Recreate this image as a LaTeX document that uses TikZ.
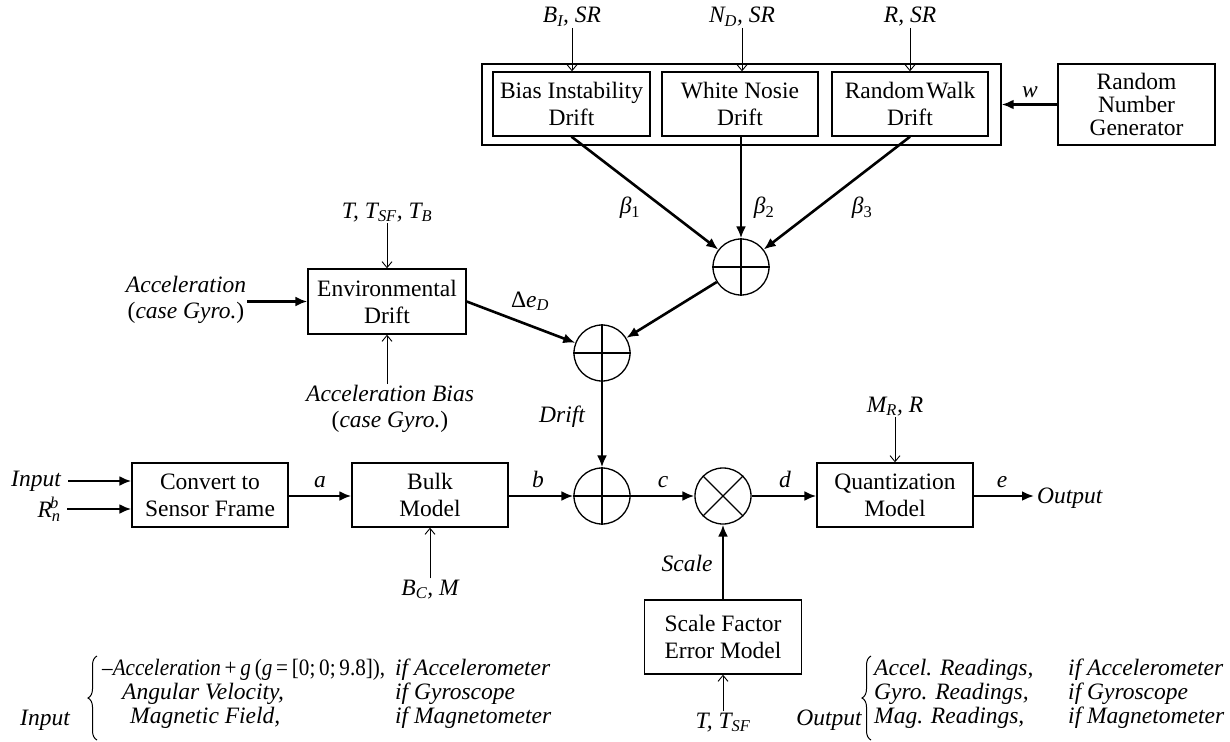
\documentclass[tikz,border=0pt]{standalone}
\usepackage{fontspec}
\usepackage{graphicx}
\setmainfont{Liberation Serif}
\usetikzlibrary{arrows.meta,decorations.pathreplacing}
\newcommand\lsub[1]{\textsubscript{#1}}
\tikzset{
  blk/.style={draw, line width=1.4pt, minimum width=156pt, minimum height=64pt, align=center, inner sep=0pt, font=\fontsize{23.5}{27}\selectfont},
  sumc/.style={draw, circle, line width=1.3pt, minimum size=56pt, inner sep=0pt},
  sig/.style={line width=2.6pt, -{Latex[length=12pt,width=10pt]}},
  prm/.style={line width=0.9pt, -{Straight Barb[length=6pt,width=10pt]}},
  lbl/.style={font=\fontsize{23.5}{26}\selectfont\itshape, inner sep=1pt, align=center},
  frm/.style={font=\fontsize{23.5}{24}\selectfont\itshape, inner sep=0pt, anchor=base west},
  brc/.style={decorate, decoration={brace, amplitude=9pt, aspect=0.5}, line width=1pt},
}
\begin{document}
\begin{tikzpicture}[x=1pt, y=-1pt]
\useasboundingbox (0,0) rectangle (1230,741);

% ---- drift group ----
\node[draw, line width=1.4pt, minimum width=519pt, minimum height=81pt, inner sep=0pt] (grp) at (741.5,104.5) {};
\node[blk, minimum width=157pt] (bias) at (571.5,104) {Bias Instability\\Drift};
\node[blk] (white) at (740,104) {White Nosie\\Drift};
\node[blk] (rw) at (910,104) {Random\hspace{0.08em}Walk\\Drift};
\node[blk, minimum width=157pt, minimum height=81pt, font=\fontsize{23.5}{23}\selectfont] (rng) at (1136.5,104.5) {Random\\Number\\Generator};

\node[lbl, anchor=base] (pb) at (572,23) {B\lsub{I}, SR};
\node[lbl, anchor=base] (pn) at (742,23) {N\lsub{D}, SR};
\node[lbl, anchor=base] (pr) at (910,23) {R, SR};
\draw[prm] (pb.south) -- (pb.south |- bias.north);
\draw[prm] (pn.south) -- (pn.south |- white.north);
\draw[prm] (pr.south) -- (rw.north);

\draw[sig] (rng.west) -- (grp.east);
\node[lbl] (lw) at (1030,92) {w};

% ---- sums ----
\node[sumc] (s1) at (741,267) {};
\node[sumc] (s2) at (602,353) {};
\node[sumc] (s3) at (602,496) {};
\node[sumc] (mx) at (723,496) {};
\foreach \s in {s1,s2,s3}{
  \draw[line width=1.1pt] (\s.north) -- (\s.south);
  \draw[line width=1.1pt] (\s.west) -- (\s.east);
}
\draw[line width=1.1pt] (mx.north west) -- (mx.south east);
\draw[line width=1.1pt] (mx.north east) -- (mx.south west);

\draw[sig] (bias.south) -- (s1);
\draw[sig] (s1 |- white.south) -- (s1.north);
\draw[sig] (rw.south) -- (s1);
\node[lbl] (b1) at (630,208) {β\textsubscript{\upshape 1}};
\node[lbl] (b2) at (764,208) {β\textsubscript{\upshape 2}};
\node[lbl] (b3) at (862,208) {β\textsubscript{\upshape 3}};

% ---- environmental drift ----
\node[blk, minimum width=158pt, minimum height=65pt] (env) at (387,301.5) {Environmental\\Drift};
\node[lbl, anchor=base] (pt) at (387,218) {T, T\lsub{SF}, T\lsub{B}};
\draw[prm] (pt.south) -- (env.north);
\node[lbl] (acc) at (186,300) {Acceleration\\\textup{(}case Gyro.\textup{)}};
\draw[sig] (acc.east |- env.west) -- (env.west);
\node[lbl] (ab) at (390,409) {Acceleration Bias\\\textup{(}case Gyro.\textup{)}};
\draw[prm] (ab.north -| env.south) -- (env.south);
\node[lbl, anchor=base] (de) at (530,307) {\textup{Δ}e\lsub{D}};
\draw[sig] (env.east) -- (s2);
\draw[sig] (s1) -- (s2);
\draw[sig] (s2) -- (s3);
\node[lbl] (dl) at (562,417) {Drift};

% ---- main chain ----
\node[blk] (conv) at (210,495) {Convert to\\Sensor Frame};
\node[blk] (bulk) at (430,495) {Bulk\\Model};
\node[blk] (quant) at (895,495) {Quantization\\Model};
\node[blk, minimum width=157pt, minimum height=74pt] (scl) at (723,637) {Scale Factor\\Error Model};

\node[lbl, anchor=east] (in) at (62,481) {Input};
\node[lbl, anchor=east, inner sep=0pt] (rn) at (59,509) {R\textsubscript{n}\kern-0.45em\textsuperscript{b}};
\draw[sig] ([xshift=6pt]in.east) -- (in.east -| conv.west);
\draw[sig] ([xshift=8pt]rn.east) -- (rn.east -| conv.west);
\draw[sig] (conv.east |- s3.west) -- (bulk.west |- s3.west);
\draw[sig] (bulk.east |- s3.west) -- (s3.west);
\draw[sig] (s3.east) -- (mx.west);
\draw[sig] (mx.east) -- (quant.west |- mx.east);
\node[lbl, anchor=base west, inner sep=3pt] (out) at (1034,503) {Output};
\draw[sig] (quant.east |- mx.east) -- (out.west |- mx.east);
\node[lbl, anchor=base] (la) at (320,487) {a};
\node[lbl, anchor=base] (lb) at (538,487) {b};
\node[lbl, anchor=base] (lc) at (663,487) {c};
\node[lbl, anchor=base] (ld) at (785,487) {d};
\node[lbl, anchor=base] (le) at (1002,487) {e};

\node[lbl, anchor=base] (pbc) at (430,595) {B\lsub{C}, M};
\draw[prm] (pbc.north) -- (bulk.south);
\node[lbl, anchor=base] (pmr) at (895,412) {M\lsub{R}, R};
\draw[prm] (pmr.south) -- (quant.north);
\node[lbl] (lscale) at (687,563) {Scale};
\draw[sig] (scl.north) -- (mx.south);
\node[lbl, anchor=base] (pts) at (723,728) {T, T\lsub{SF}};
\draw[prm] (pts.north) -- (scl.south);

% ---- bottom descriptions ----
\node[lbl, anchor=base] (fin) at (45,725) {Input};
\coordinate (ib1) at (97,740);
\coordinate (ib2) at (97,656);
\draw[brc] (ib1) -- (ib2);
\node[frm] (i1) at (102,675) {\scalebox{0.9}[1]{\spaceskip=0.18em –Acceleration \textup{+} g \textup{(}g \textup{= [0; 0; 9.8]),}}};
\node[frm] (i2) at (122,699) {Angular Velocity,};
\node[frm] (i3) at (130,723) {Magnetic Field,};
\node[frm] (i4) at (395,675) {if Accelerometer};
\node[frm] (i5) at (395,699) {if Gyroscope};
\node[frm] (i6) at (395,723) {if Magnetometer};

\node[lbl, anchor=base] (fout) at (829,725) {Output};
\coordinate (ob1) at (871,740);
\coordinate (ob2) at (871,656);
\draw[brc] (ob1) -- (ob2);
\node[frm] (o1) at (874,675) {Accel. Readings,};
\node[frm] (o2) at (874,699) {Gyro. Readings,};
\node[frm] (o3) at (874,723) {Mag. Readings,};
\node[frm] (o4) at (1068,675) {if Accelerometer};
\node[frm] (o5) at (1068,699) {if Gyroscope};
\node[frm] (o6) at (1068,723) {if Magnetometer};
\end{tikzpicture}
\end{document}
